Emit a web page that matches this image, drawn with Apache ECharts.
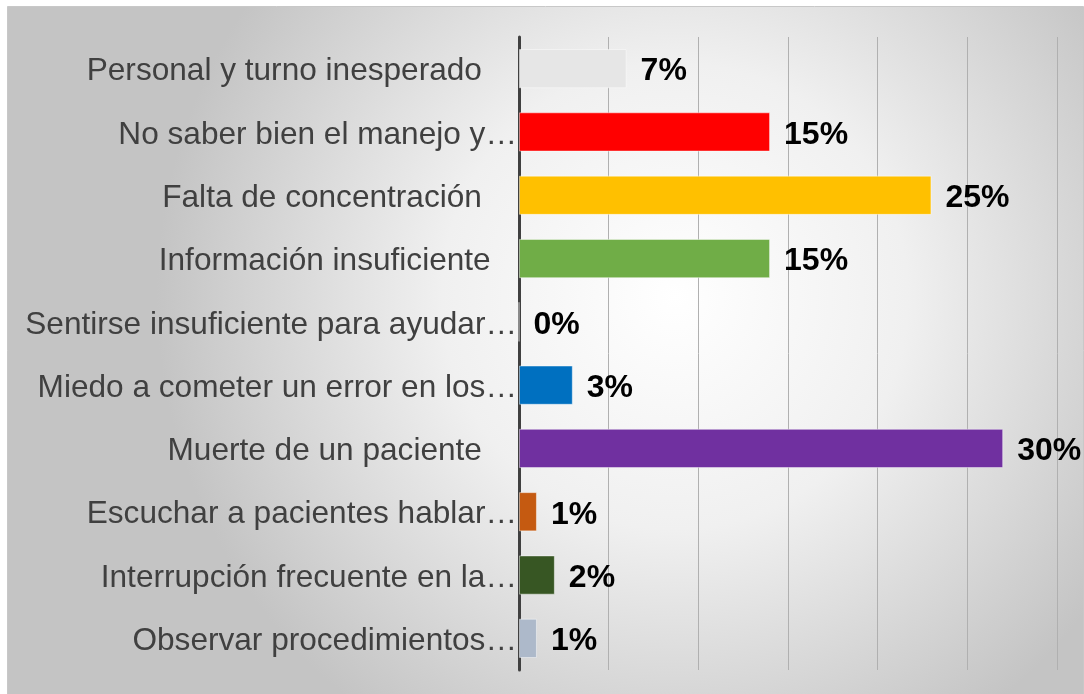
<!DOCTYPE html>
<html>
<head>
<meta charset="utf-8">
<script src="https://cdn.jsdelivr.net/npm/echarts@6/dist/echarts.min.js"></script>
<style>
  html, body { margin: 0; padding: 0; background: #fff; }
  #chart { width: 1084px; height: 694px; }
</style>
</head>
<body>
<div id="chart"></div>
<script>
// categories as shown (top to bottom); trailing spaces come from the source labels
var categories = [
  'Personal y turno inesperado    ',
  'No saber bien el manejo y…',
  'Falta de concentración    ',
  'Información insuficiente   ',
  'Sentirse insuficiente para ayudar…',
  'Miedo a cometer un error en los…',
  'Muerte de un paciente    ',
  'Escuchar a pacientes hablar…',
  'Interrupción frecuente en la…',
  'Observar procedimientos…'
]
// answer counts (bar lengths) and the percent labels printed next to them
var counts = [6, 14, 23, 14, 0, 3, 27, 1, 2, 1]
var percentLabels = ['7%', '15%', '25%', '15%', '0%', '3%', '30%', '1%', '2%', '1%']
var barColors = ['#e6e6e6', '#ff0000', '#ffc000', '#70ad47', '#a5a5a5', '#0070c0', '#7030a0', '#c55a11', '#375623', '#adb9ca']

var chartDom = document.getElementById('chart')
var myChart = echarts.init(chartDom)
var option

option = {
  animation: false,
  graphic: [
    {
      type: 'rect',
      z: -10,
      silent: true,
      shape: { x: 7.5, y: 6.5, width: 1076, height: 690 },
      style: {
        fill: {
          type: 'radial',
          x: 0.62,
          y: 0.42,
          r: 0.75,
          colorStops: [
            { offset: 0, color: '#ffffff' },
            { offset: 0.45, color: '#f0f0f0' },
            { offset: 1, color: '#c4c4c4' }
          ]
        },
        stroke: '#c8c8c8',
        lineWidth: 1
      }
    }
  ],
  grid: {
    left: 519,
    right: 27,
    top: 37,
    bottom: 24,
    containLabel: false
  },
  xAxis: {
    type: 'value',
    min: 0,
    max: 30,
    interval: 5,
    axisLabel: { show: false },
    axisLine: { show: false },
    axisTick: { show: false },
    splitLine: {
      lineStyle: { color: '#b0b0b0', width: 1 }
    }
  },
  yAxis: {
    type: 'category',
    inverse: true,
    data: categories,
    axisTick: { show: false },
    axisLine: {
      lineStyle: { color: '#404040', width: 3 }
    },
    axisLabel: {
      margin: 2,
      formatter: function (v) {
        return '{t|' + v + '}'
      },
      rich: {
        t: {
          color: '#404040',
          fontSize: 31.6,
          fontFamily: 'Liberation Sans, Arial, sans-serif',
          padding: [6, 0, 0, 0]
        }
      }
    }
  },
  series: [
    {
      type: 'bar',
      barCategoryGap: '38%',
      data: counts.map(function (v, i) {
        return {
          value: v,
          itemStyle: {
            color: barColors[i],
            borderColor: 'rgba(255,255,255,0.45)',
            borderWidth: 1
          }
        }
      }),
      label: {
        show: true,
        position: 'right',
        distance: 14,
        offset: [0, 3],
        formatter: function (p) {
          return percentLabels[p.dataIndex]
        },
        color: '#000',
        fontWeight: 'bold',
        fontSize: 32,
        fontFamily: 'Liberation Sans, Arial, sans-serif'
      }
    }
  ]
}
option && myChart.setOption(option)
</script>
</body>
</html>
